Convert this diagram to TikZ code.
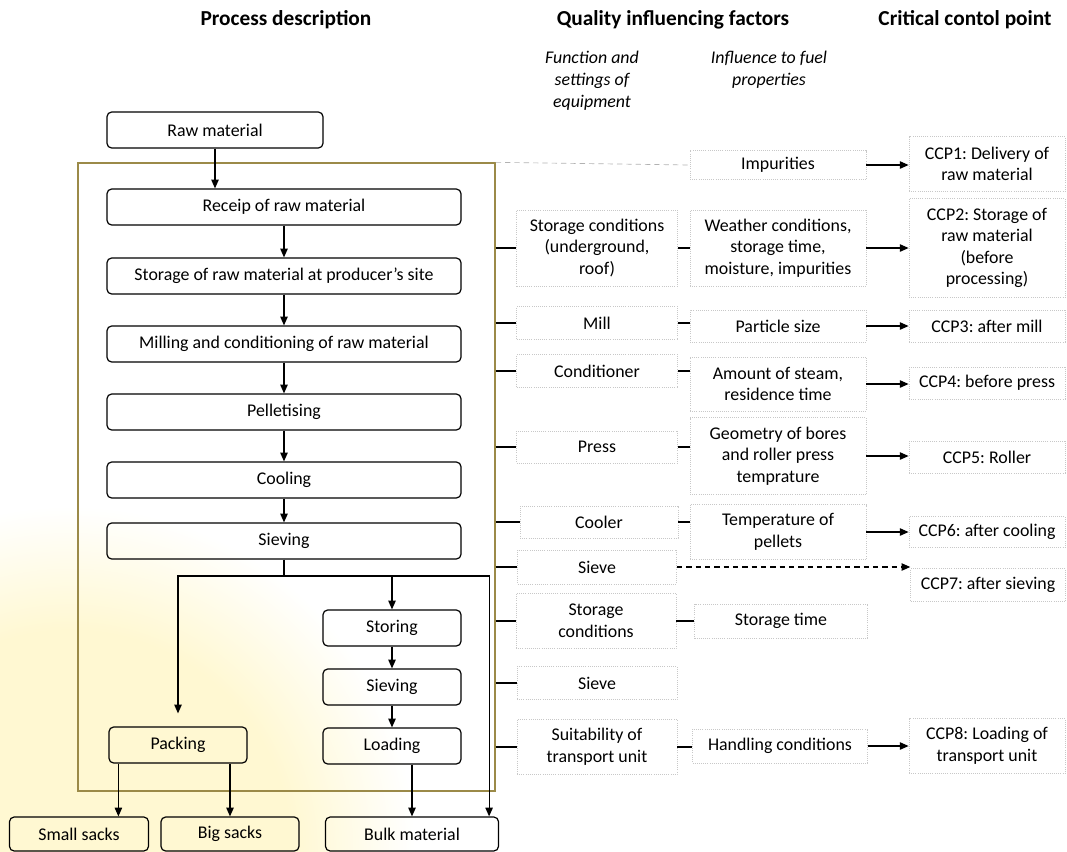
\documentclass[tikz,border=0pt]{standalone}
\usepackage{fontspec}
\setmainfont{Carlito}
\usetikzlibrary{arrows.meta,calc}
\definecolor{framecol}{RGB}{155,138,72}
\definecolor{glow}{RGB}{255,248,210}
\definecolor{faint}{RGB}{200,200,200}
\pgfdeclareradialshading{glowshade}{\pgfpoint{0bp}{0bp}}{color(0bp)=(glow); color(16bp)=(glow); color(25bp)=(white); color(50bp)=(white)}
\frenchspacing

\begin{document}
\begin{tikzpicture}[x=0.75pt,y=-0.75pt,
  every node/.style={font=\fontsize{13.4}{16.2}\selectfont, align=center, inner sep=0pt},
  proc/.style={draw, line width=0.9pt, rounded corners=3.5pt, minimum height=27pt},
  fact/.style={draw=faint, densely dotted, line width=0.6pt},
  head/.style={font=\fontsize{16}{19}\selectfont\bfseries},
  sub/.style={font=\fontsize{13.4}{16.5}\selectfont\itshape},
  arr/.style={line width=0.9pt, -{Triangle[length=6.5pt,width=5.5pt]}},
  link/.style={line width=0.9pt}]
\useasboundingbox (0,0) rectangle (1067,851);
\shade[shading=glowshade] (70,851) circle (345);

% headings
\node[head] (h1) at (286,20) {Process description};
\node[head] (h2) at (673,20) {Quality influencing factors};
\node[head] (h3) at (965,20) {Critical contol point};
\node[sub] (s1) at (592,81) {Function and\\settings of\\equipment};
\node[sub] (s2) at (769,70) {Influence to fuel\\properties};

% process chain
\node[draw=framecol, line width=1pt, minimum width=312.75pt, minimum height=471pt] (frame) at (286.5,477) {};
\node[proc, minimum width=162pt] (raw) at (215,130) {Raw material};
\node[proc, minimum width=265.5pt] (receipt) at (284,207) {Receip of raw material};
\node[proc, minimum width=265.5pt] (storage) at (284,276) {Storage of raw material at producer’s site};
\node[proc, minimum width=265.5pt] (milling) at (284,344) {Milling and conditioning of raw material};
\node[proc, minimum width=265.5pt] (pellet) at (284,412) {Pelletising};
\node[proc, minimum width=265.5pt] (cooling) at (284,480) {Cooling};
\node[proc, minimum width=265.5pt] (sieving) at (284,541) {Sieving};
\node[proc, minimum width=103.5pt] (storing) at (392,628) {Storing};
\node[proc, minimum width=103.5pt] (sieving2) at (392,687) {Sieving};
\node[proc, minimum width=103.5pt] (loading) at (392,746) {Loading};
\node[proc, minimum width=103.5pt] (packing) at (178,745) {Packing};
\node[proc, minimum width=104.25pt, minimum height=25.5pt] (small) at (79,834) {Small sacks};
\node[proc, minimum width=103.5pt, minimum height=25.5pt] (big) at (230,834) {Big sacks};
\node[proc, minimum width=129.75pt, minimum height=25.5pt] (bulk) at (412,834) {Bulk material};

\draw[arr] (raw) -- (raw |- receipt.north);
\draw[arr] (receipt) -- (storage);
\draw[arr] (storage) -- (milling);
\draw[arr] (milling) -- (pellet);
\draw[arr] (pellet) -- (cooling);
\draw[arr] (cooling) -- (sieving);
\coordinate (split) at (284,576);
\coordinate (bulkin) at ($(bulk.north east)+(-10,0)$);
\draw[link] (sieving) -- (split);
\draw[arr] (split) -| (storing);
\draw[arr, shorten >=9.75pt] (split) -| (packing);
\draw[arr] (split) -| (bulkin);
\draw[arr] (storing) -- (sieving2);
\draw[arr] (sieving2) -- (loading);
\draw[arr] (loading.south -| bulk.north) -- (bulk);
\draw[arr] ($(packing.south west)+(10,0)$) coordinate (pk) -- (pk |- small.north);
\draw[arr] (packing.south -| big.north) -- (big);

% equipment
\node[fact, minimum width=120.75pt, minimum height=57pt] (storcond) at (597,248) {Storage conditions\\(underground,\\roof)};
\node[fact, minimum width=120.75pt, minimum height=24.75pt] (mill) at (597,323) {Mill};
\node[fact, minimum width=120.75pt, minimum height=24.75pt] (cond) at (597,371) {Conditioner};
\node[fact, minimum width=120.75pt, minimum height=24pt] (press) at (597,447) {Press};
\node[fact, minimum width=118.5pt, minimum height=24pt] (cooler) at (599,522) {Cooler};
\node[fact, minimum width=119.25pt, minimum height=25.5pt] (sieve) at (597,567) {Sieve};
\node[fact, minimum width=120pt, minimum height=41.25pt] (storcond2) at (596,621) {Storage\\conditions};
\node[fact, minimum width=120pt, minimum height=24.75pt] (sieve2) at (597,683) {Sieve};
\node[fact, minimum width=120pt, minimum height=41.25pt] (suit) at (597,747) {Suitability of\\transport unit};

% influence
\node[fact, minimum width=132pt, minimum height=21.75pt] (impur) at (778,165) {Impurities};
\node[fact, minimum width=132pt, minimum height=57pt] (weather) at (778,248) {Weather conditions,\\storage time,\\moisture, impurities};
\node[fact, minimum width=132pt, minimum height=24pt] (particle) at (778,326) {Particle size};
\node[fact, minimum width=132pt, minimum height=40.5pt] (steam) at (778,384) {Amount of steam,\\residence time};
\node[fact, minimum width=132pt, minimum height=57.75pt] (geom) at (778,456) {Geometry of bores\\and roller press\\temprature};
\node[fact, minimum width=132pt, minimum height=41.25pt] (temp) at (778,532) {Temperature of\\pellets};
\node[fact, minimum width=129.75pt, minimum height=25.5pt] (stortime) at (781,621) {Storage time};
\node[fact, minimum width=131.25pt, minimum height=25.5pt] (handling) at (780,746) {Handling conditions};

% control points
\node[fact, minimum width=117pt, minimum height=41.25pt] (ccp1) at (987,164) {CCP1: Delivery of\\raw material};
\node[fact, minimum width=117pt, minimum height=74.25pt] (ccp2) at (987,248) {CCP2: Storage of\\raw material\\(before\\processing)};
\node[fact, minimum width=117pt, minimum height=24pt] (ccp3) at (987,326) {CCP3: after mill};
\node[fact, minimum width=117pt, minimum height=24pt] (ccp4) at (987,383) {CCP4: before press};
\node[fact, minimum width=117pt, minimum height=24pt] (ccp5) at (987,457) {CCP5: Roller};
\node[fact, minimum width=117pt, minimum height=23.25pt] (ccp6) at (987,532) {CCP6: after cooling};
\node[fact, minimum width=116pt, minimum height=24.75pt] (ccp7) at (988,585) {CCP7: after sieving};
\node[fact, minimum width=117pt, minimum height=41.25pt] (ccp8) at (987,746) {CCP8: Loading of\\transport unit};

\foreach \n in {storcond,mill,cond,press,cooler,sieve,storcond2,sieve2,suit}
  \draw[link] (frame.east |- \n.west) -- (\n.west);
\foreach \a/\b in {storcond/weather,mill/particle,cond/steam,press/geom,cooler/temp,storcond2/stortime,suit/handling}
  \draw[link] (\a.east) -- (\a.east -| \b.west);
\foreach \a/\b in {impur/ccp1,weather/ccp2,particle/ccp3,steam/ccp4,geom/ccp5,temp/ccp6,handling/ccp8}
  \draw[arr] (\a.east) -- (\a.east -| \b.west);
\draw[gray!60, line width=0.5pt, dash pattern=on 4pt off 3pt] (frame.north east) -- (impur.west);
\draw[arr, dash pattern=on 4pt off 3pt] (sieve.east) -- (sieve.east -| ccp7.west);
\end{tikzpicture}
\end{document}
